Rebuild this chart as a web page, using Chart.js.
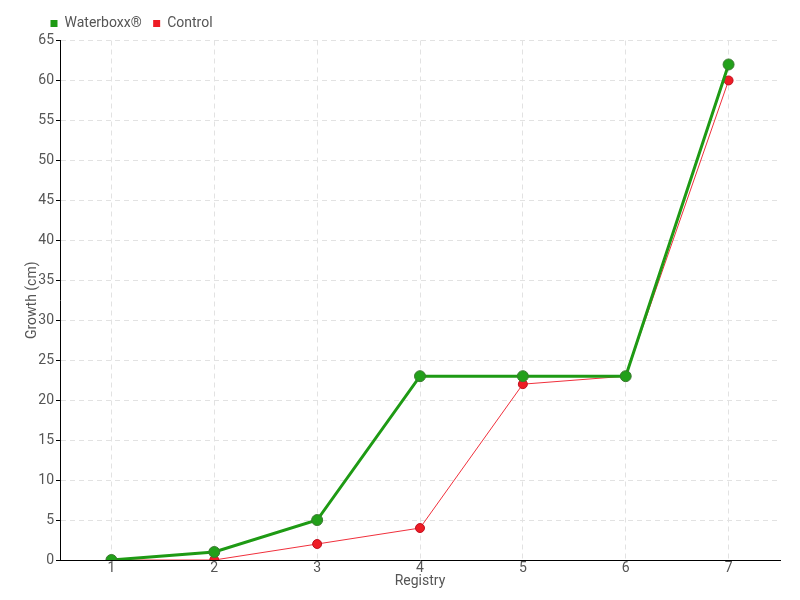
<!DOCTYPE html>
<html>
<head>
<meta charset="utf-8">
<script src="https://cdn.jsdelivr.net/npm/chart.js@4"></script>
<style>
  html, body { margin: 0; padding: 0; background: #ffffff; }
  #wrap { width: 800px; height: 600px; }
</style>
</head>
<body>
<div id="wrap"><canvas id="growthChart" width="800" height="600"></canvas></div>
<script>
// data
const registries = ["1", "2", "3", "4", "5", "6", "7"];
const waterboxx = [0, 1, 5, 23, 23, 23, 62];
const control = [0, 0, 2, 4, 22, 23, 60];

const FONT = "Roboto, 'Noto Sans', sans-serif";
const TEXT = "#555555";

// nudge the legend to the right, like the original
const legendShift = {
  id: "legendShift",
  afterLayout(chart) {
    if (chart.legend) {
      chart.legend.left += 15;
      chart.legend.right += 15;
    }
  },
};

document.addEventListener("DOMContentLoaded", () => {
  const ctx = document.getElementById("growthChart");

  new Chart(ctx, {
    type: "line",
    data: {
      labels: registries,
      datasets: [
        {
          label: "Waterboxx®",
          data: waterboxx,
          borderColor: "#1e9a14",
          backgroundColor: "#1e9a14",
          borderWidth: 3,
          pointRadius: 5.5,
          pointBackgroundColor: "#22a01a",
          pointBorderColor: "#3a7a30",
          pointBorderWidth: 1,
          tension: 0,
        },
        {
          label: "Control",
          data: control,
          borderColor: "#f0303c",
          backgroundColor: "#ee1c25",
          borderWidth: 1,
          pointRadius: 4.5,
          pointBackgroundColor: "#ee1c25",
          pointBorderColor: "#c01020",
          pointBorderWidth: 1,
          tension: 0,
        },
      ],
    },
    options: {
      responsive: false,
      animation: false,
      layout: { padding: { left: 24, right: 20, top: 5, bottom: 0 } },
      plugins: {
        tooltip: { enabled: false },
        legend: {
          position: "top",
          align: "start",
          labels: {
            boxWidth: 7,
            boxHeight: 7,
            padding: 11.5,
            color: TEXT,
            font: { family: FONT, size: 14 },
            generateLabels: (chart) =>
              chart.data.datasets.map((ds, i) => ({
                text: ds.label,
                fillStyle: ds.backgroundColor,
                strokeStyle: ds.backgroundColor,
                lineWidth: 0,
                datasetIndex: i,
                fontColor: TEXT,
              })),
          },
        },
      },
      scales: {
        x: {
          offset: true,
          afterFit: (s) => { s.height = 40; },
          title: {
            display: true,
            text: "Registry",
            color: TEXT,
            font: { family: FONT, size: 14 },
            padding: { top: 0, bottom: 10 },
          },
          ticks: { color: TEXT, font: { family: FONT, size: 14 }, padding: 0 },
          border: { color: "#000000", width: 1, dash: [5, 4] },
          grid: {
            color: "#e2e2e2",
            lineWidth: 1,
            drawTicks: false,
          },
        },
        y: {
          min: 0,
          max: 65,
          afterFit: (s) => { s.width = 36; },
          title: {
            display: true,
            text: "Growth (cm)",
            color: TEXT,
            font: { family: FONT, size: 14 },
            padding: 0,
          },
          ticks: { stepSize: 5, color: TEXT, font: { family: FONT, size: 14 }, padding: 2 },
          border: { color: "#000000", width: 1, dash: [5, 4] },
          grid: {
            color: "#e2e2e2",
            tickColor: "#000000",
            tickBorderDash: [],
            tickLength: 4,
          },
        },
      },
    },
    plugins: [legendShift],
  });
});
</script>
</body>
</html>
